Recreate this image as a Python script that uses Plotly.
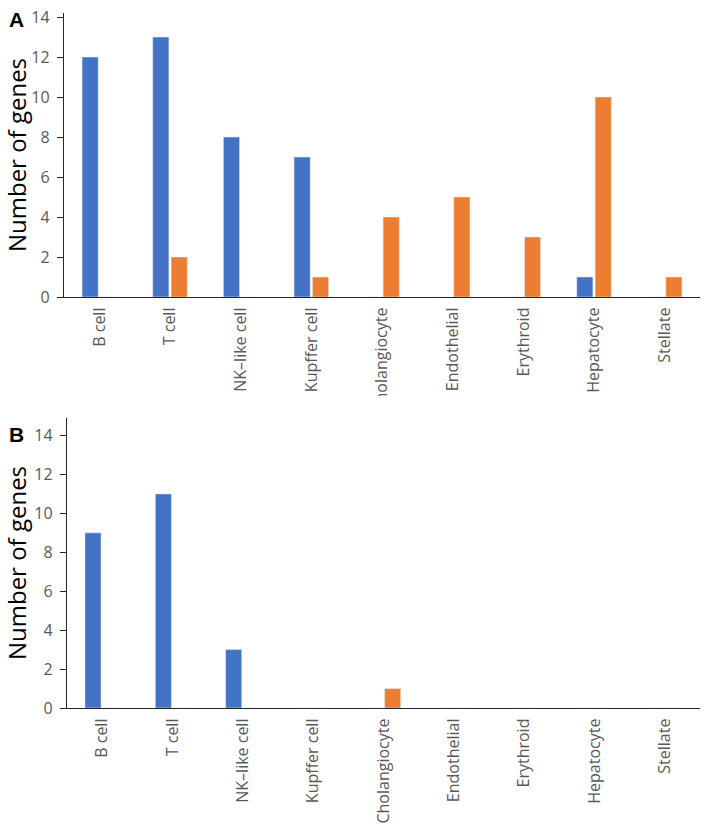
import plotly.graph_objects as go

categories = ["B cell", "T cell", "NK\u2013like cell", "Kupffer cell", "Cholangiocyte",
              "Endothelial", "Erythroid", "Hepatocyte", "Stellate"]
a_blue = [12, 13, 8, 7, 0, 0, 0, 1, 0]
a_orange = [0, 2, 0, 1, 4, 5, 3, 10, 1]
b_blue = [9, 11, 3, 0, 0, 0, 0, 0, 0]
b_orange = [0, 0, 0, 0, 1, 0, 0, 0, 0]
y_ticks = [0, 2, 4, 6, 8, 10, 12, 14]

BLUE = "#4472C4"
ORANGE = "#ED7D31"
W, H = 709, 824
FONT = "Open Sans, sans-serif"

fig = go.Figure()
fig.add_bar(x=categories, y=a_blue, marker_color=BLUE, xaxis="x", yaxis="y", showlegend=False)
fig.add_bar(x=categories, y=a_orange, marker_color=ORANGE, xaxis="x", yaxis="y", showlegend=False)
fig.add_bar(x=categories, y=b_blue, marker_color=BLUE, xaxis="x2", yaxis="y2", showlegend=False)
fig.add_bar(x=categories, y=b_orange, marker_color=ORANGE, xaxis="x2", yaxis="y2", showlegend=False)

def px_x(p):
    return p / W

def px_y(p):
    return 1 - p / H

xcommon = dict(showline=True, linecolor="#262626", linewidth=1.3, ticks="", tickangle=-90,
               tickfont=dict(family=FONT, size=16, color="#595959"), showgrid=False,
               zeroline=False, fixedrange=True, ticklabelstandoff=3, automargin=False)
ycommon = dict(showline=True, linecolor="#262626", linewidth=1.3, ticks="outside", ticklen=6,
               tickcolor="#262626", tickvals=y_ticks, showgrid=False, zeroline=False,
               tickfont=dict(family=FONT, size=16, color="#595959"), ticklabelstandoff=4,
               automargin=False,
               title=dict(text="Number of genes", font=dict(family=FONT, size=24, color="#000000"),
                          standoff=28))

fig.update_layout(
    width=W, height=H, margin=dict(l=0, r=0, t=0, b=0),
    paper_bgcolor="white", plot_bgcolor="white",
    barmode="group", bargap=0.48, bargroupgap=0.12,
    xaxis=dict(domain=[px_x(64), px_x(700)], anchor="y", **xcommon),
    yaxis=dict(domain=[px_y(297), px_y(13)], anchor="x", range=[0, 14.2], **ycommon),
    xaxis2=dict(domain=[px_x(67), px_x(700)], anchor="y2", **xcommon),
    yaxis2=dict(domain=[px_y(708), px_y(418)], anchor="x2", range=[0, 14.9], **ycommon),
    shapes=[
        dict(type="rect", xref="paper", yref="paper", x0=0, x1=1,
             y0=px_y(414), y1=px_y(396), fillcolor="white", line=dict(width=0), layer="above"),
    ],
    annotations=[
        dict(text="<b>A</b>", x=px_x(7), y=px_y(19), xref="paper", yref="paper",
             xanchor="left", yanchor="middle", showarrow=False,
             font=dict(family="Arial", size=21, color="black")),
        dict(text="<b>B</b>", x=px_x(7), y=px_y(434), xref="paper", yref="paper",
             xanchor="left", yanchor="middle", showarrow=False,
             font=dict(family="Arial", size=21, color="black")),
    ],
)

fig.write_html("out.html", config={"displayModeBar": False},
               post_script="document.body.style.margin='0px';")
